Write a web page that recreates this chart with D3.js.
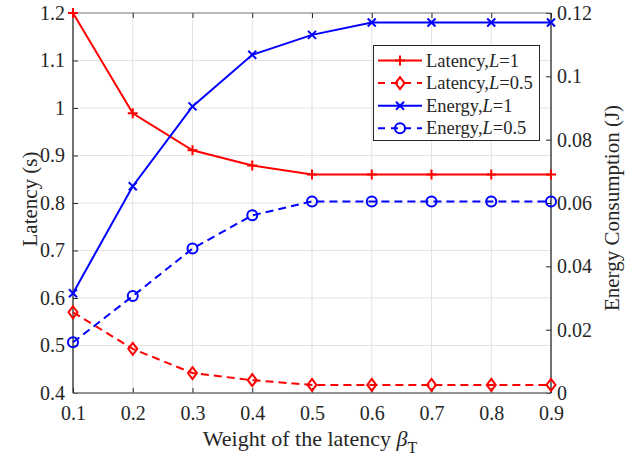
<!DOCTYPE html>
<html lang="en">
<head>
<meta charset="UTF-8">
<script src="https://d3js.org/d3.v7.min.js"></script>
<style>
  body { margin: 0; background: #fff; }
  .grid line { stroke: #e3e3e3; stroke-width: 1px; }
</style>
</head>
<body>
<div id="chart"></div>
<script>
// data
var weights = [0.1, 0.2, 0.3, 0.4, 0.5, 0.6, 0.7, 0.8, 0.9];
var latencyL1 = [1.2, 0.989, 0.911, 0.879, 0.86, 0.86, 0.86, 0.86, 0.86];
var latencyL05 = [0.570, 0.493, 0.442, 0.427, 0.417, 0.417, 0.417, 0.417, 0.417];
var energyL1 = [0.0315, 0.0653, 0.0905, 0.1068, 0.1131, 0.117, 0.117, 0.117, 0.117];
var energyL05 = [0.016, 0.0306, 0.0456, 0.0561, 0.0605, 0.0605, 0.0605, 0.0605, 0.0605];
var leftTicks = [0.4, 0.5, 0.6, 0.7, 0.8, 0.9, 1, 1.1, 1.2];
var rightTicks = [0, 0.02, 0.04, 0.06, 0.08, 0.1, 0.12];

var W = 636, H = 461;
var m = { left: 73, right: 551, top: 13, bottom: 393 };
var FONT = "Liberation Serif";

var svg = d3.select("#chart").append("svg")
    .attr("width", W).attr("height", H);

var x = d3.scaleLinear().domain([0.1, 0.9]).range([m.left, m.right]);
var yL = d3.scaleLinear().domain([0.4, 1.2]).range([m.bottom, m.top]);
var yR = d3.scaleLinear().domain([0, 0.12]).range([m.bottom, m.top]);

// grid
var grid = svg.append("g").attr("class", "grid");
grid.selectAll(".gx").data(weights.slice(1, -1)).enter().append("line")
    .attr("x1", d => x(d)).attr("x2", d => x(d))
    .attr("y1", m.top).attr("y2", m.bottom);
grid.selectAll(".gy").data(leftTicks.slice(1, -1)).enter().append("line")
    .attr("x1", m.left).attr("x2", m.right)
    .attr("y1", d => yL(d)).attr("y2", d => yL(d));

// axes (ticks inward, matlab style)
function styleAxis(g) {
    g.attr("font-family", FONT).attr("font-size", 20);
    g.select(".domain").remove();
    g.selectAll("text").attr("fill", "#262626").attr("font-family", FONT);
    g.selectAll("line").attr("stroke", "#262626");
}
svg.append("g").attr("transform", "translate(0," + m.bottom + ")")
    .call(d3.axisBottom(x).tickValues(weights).tickSize(-5).tickPadding(13).tickFormat(d3.format(".1f")))
    .call(styleAxis);
svg.append("g").attr("transform", "translate(0," + m.top + ")")
    .call(d3.axisTop(x).tickValues(weights).tickSize(-5).tickFormat(""))
    .call(styleAxis);
svg.append("g").attr("transform", "translate(" + m.left + ",0)")
    .call(d3.axisLeft(yL).tickValues(leftTicks).tickSize(-5).tickPadding(8).tickFormat(d3.format("~g")))
    .call(styleAxis);
svg.append("g").attr("transform", "translate(" + m.right + ",0)")
    .call(d3.axisRight(yR).tickValues(rightTicks).tickSize(-5).tickPadding(6).tickFormat(d3.format("~g")))
    .call(styleAxis);

// box
svg.append("line").attr("x1", m.left).attr("x2", m.right).attr("y1", m.top).attr("y2", m.top).attr("stroke", "#707070");
svg.append("line").attr("x1", m.left).attr("x2", m.right).attr("y1", m.bottom).attr("y2", m.bottom).attr("stroke", "#707070").attr("stroke-width", 1.3);
svg.append("line").attr("x1", m.left).attr("x2", m.left).attr("y1", m.top).attr("y2", m.bottom).attr("stroke", "#262626").attr("stroke-width", 1.3);
svg.append("line").attr("x1", m.right).attr("x2", m.right).attr("y1", m.top).attr("y2", m.bottom).attr("stroke", "#262626").attr("stroke-width", 1.3);

// markers
function drawMarker(g, type, cx, cy, color) {
    if (type === "plus") {
        g.append("path").attr("d", "M" + (cx - 5) + "," + cy + "H" + (cx + 5) + "M" + cx + "," + (cy - 5) + "V" + (cy + 5))
            .attr("stroke", color).attr("stroke-width", 2).attr("fill", "none");
    } else if (type === "cross") {
        g.append("path").attr("d", "M" + (cx - 4) + "," + (cy - 4) + "L" + (cx + 4) + "," + (cy + 4) + "M" + (cx - 4) + "," + (cy + 4) + "L" + (cx + 4) + "," + (cy - 4))
            .attr("stroke", color).attr("stroke-width", 2).attr("fill", "none");
    } else if (type === "diamond") {
        g.append("path").attr("d", "M" + cx + "," + (cy - 6) + "L" + (cx + 4.5) + "," + cy + "L" + cx + "," + (cy + 6) + "L" + (cx - 4.5) + "," + cy + "Z")
            .attr("stroke", color).attr("stroke-width", 2).attr("fill", "none");
    } else {
        g.append("circle").attr("cx", cx).attr("cy", cy).attr("r", 5)
            .attr("stroke", color).attr("stroke-width", 2).attr("fill", "none");
    }
}

var series = [
    { name: "Latency,", L: "1", vals: latencyL1, y: yL, color: "#ff0000", dash: null, marker: "plus" },
    { name: "Latency,", L: "0.5", vals: latencyL05, y: yL, color: "#ff0000", dash: "8,5", marker: "diamond" },
    { name: "Energy,", L: "1", vals: energyL1, y: yR, color: "#0000ff", dash: null, marker: "cross" },
    { name: "Energy,", L: "0.5", vals: energyL05, y: yR, color: "#0000ff", dash: "8,5", marker: "circle" }
];

series.forEach(function (s) {
    var line = d3.line().x((d, i) => x(weights[i])).y(d => s.y(d));
    svg.append("path").datum(s.vals)
        .attr("d", line)
        .attr("fill", "none")
        .attr("stroke", s.color)
        .attr("stroke-width", 2)
        .attr("stroke-dasharray", s.dash);
    var g = svg.append("g");
    s.vals.forEach(function (v, i) { drawMarker(g, s.marker, x(weights[i]), s.y(v), s.color); });
});

// legend
var lg = svg.append("g");
lg.append("rect").attr("x", 373.5).attr("y", 45.5).attr("width", 166).attr("height", 95)
    .attr("fill", "#fff").attr("stroke", "#262626").attr("stroke-width", 1);
series.forEach(function (s, i) {
    var ly = 60.5 + i * 22.6;
    lg.append("line").attr("x1", 378).attr("x2", 422).attr("y1", ly).attr("y2", ly)
        .attr("stroke", s.color).attr("stroke-width", 2).attr("stroke-dasharray", s.dash ? "7,6" : null);
    drawMarker(lg, s.marker, 400, ly, s.color);
    var t = lg.append("text").attr("x", 426).attr("y", ly + 6)
        .attr("font-family", FONT).attr("font-size", 18.5).attr("fill", "#262626");
    t.append("tspan").text(s.name);
    t.append("tspan").attr("font-style", "italic").text("L");
    t.append("tspan").text("=" + s.L);
});

// axis titles
svg.append("text").attr("transform", "translate(37,199) rotate(-90)")
    .attr("text-anchor", "middle").attr("font-family", FONT).attr("font-size", 21).attr("fill", "#262626")
    .text("Latency (s)");
svg.append("text").attr("transform", "translate(619,208) rotate(-90)")
    .attr("text-anchor", "middle").attr("font-family", FONT).attr("font-size", 21).attr("fill", "#262626")
    .text("Energy Consumption (J)");
var xt = svg.append("text").attr("x", 310).attr("y", 446).attr("text-anchor", "middle")
    .attr("font-family", FONT).attr("font-size", 22).attr("fill", "#262626");
xt.append("tspan").text("Weight of the latency ");
xt.append("tspan").attr("font-style", "italic").text("β");
xt.append("tspan").attr("dy", 7).attr("font-size", 16).text("T");
</script>
</body>
</html>
